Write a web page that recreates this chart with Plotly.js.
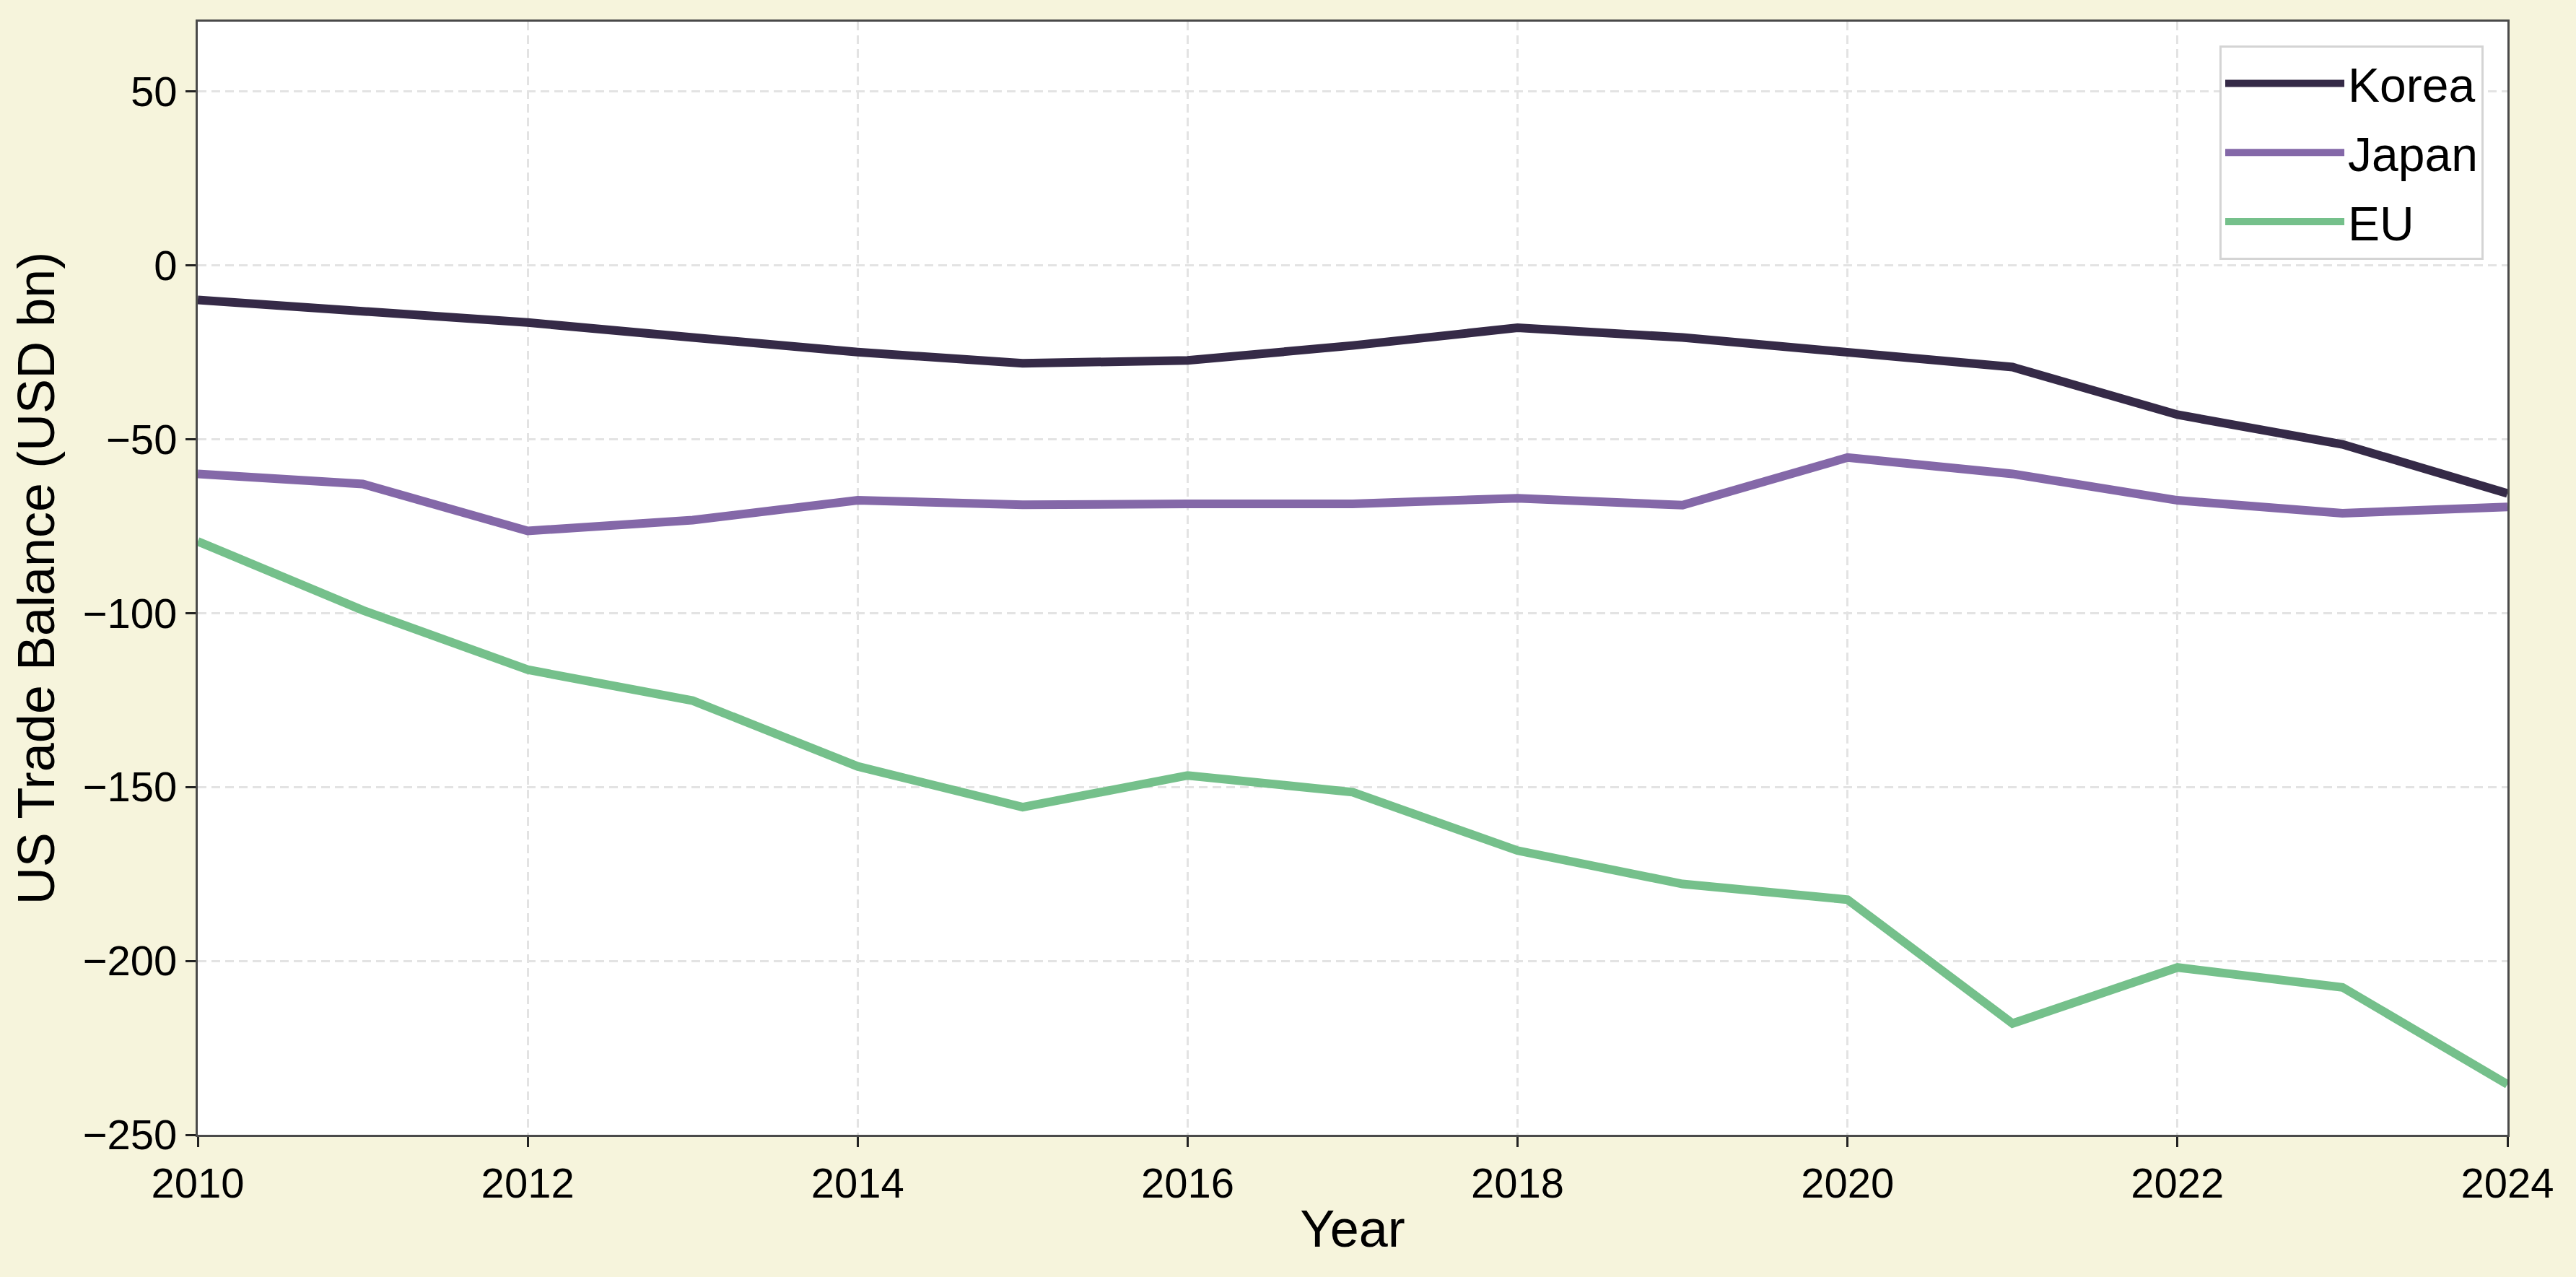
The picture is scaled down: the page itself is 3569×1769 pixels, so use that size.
<!DOCTYPE html>
<html>
<head>
<meta charset="utf-8">
<script src="https://cdn.plot.ly/plotly-3.0.1.min.js"></script>
<style>
html,body{margin:0;padding:0;background:#f6f4dc;}
#chart{width:3569px;height:1769px;}
</style>
</head>
<body>
<div id="chart"></div>
<script>
const years = [2010, 2011, 2012, 2013, 2014, 2015, 2016, 2017, 2018, 2019, 2020, 2021, 2022, 2023, 2024];
const korea = [-10, -13.2, -16.5, -20.8, -25, -28.2, -27.4, -23.1, -18, -20.8, -25, -29.3, -43, -51.5, -65.6];
const japan = [-60, -62.9, -76.4, -73.3, -67.6, -68.9, -68.6, -68.6, -67, -69, -55.3, -60, -67.6, -71.3, -69.5];
const eu = [-79.4, -99.2, -116.3, -125.2, -144.1, -155.8, -146.7, -151.5, -168.3, -177.9, -182.4, -218, -201.9, -207.6, -235.5];
const seriesNames = ['Korea', 'Japan', 'EU'];
const seriesColors = ['#352a47', '#8468a8', '#75c08b'];
const xTicks = [2010, 2012, 2014, 2016, 2018, 2020, 2022, 2024];
const yTicks = [-250, -200, -150, -100, -50, 0, 50];

const values = [korea, japan, eu];
const traces = values.map((v, i) => ({
  x: years,
  y: v,
  type: 'scatter',
  mode: 'lines',
  name: seriesNames[i],
  legendgroup: seriesNames[i],
  line: {color: seriesColors[i], width: 12}
}));

const FONT = 'Liberation Sans, Arial, Helvetica, sans-serif';
const axisCommon = {
  showline: true,
  linecolor: '#4a4a4a',
  linewidth: 3,
  mirror: true,
  ticks: 'outside',
  ticklen: 14,
  tickwidth: 3,
  tickcolor: '#222222',
  showgrid: true,
  gridcolor: '#e3e3e3',
  gridwidth: 3,
  griddash: '12px,7px',
  zeroline: false,
  tickfont: {family: FONT, size: 58, color: '#000000'}
};

const layout = {
  width: 3569,
  height: 1769,
  paper_bgcolor: '#f6f4dc',
  plot_bgcolor: '#ffffff',
  margin: {l: 274, r: 95, t: 30, b: 197, pad: 0},
  showlegend: true,
  legend: {
    x: 0.9897, xanchor: 'right',
    y: 0.9786, yanchor: 'top',
    bgcolor: '#ffffff',
    bordercolor: '#d4d4d4',
    borderwidth: 3,
    font: {family: FONT, size: 66, color: '#000000'},
    itemwidth: 165,
    traceorder: 'grouped',
    tracegroupgap: 7
  },
  xaxis: Object.assign({}, axisCommon, {
    range: [2010, 2024],
    tickmode: 'array',
    tickvals: xTicks,
    ticktext: xTicks.map(String),
    title: {text: 'Year', font: {family: FONT, size: 72, color: '#000000'}, standoff: 8}
  }),
  yaxis: Object.assign({}, axisCommon, {
    range: [-250, 70],
    tickmode: 'array',
    tickvals: yTicks,
    ticktext: yTicks.map(v => v < 0 ? '\u2212' + Math.abs(v) : String(v)),
    title: {text: 'US Trade Balance (USD bn)', font: {family: FONT, size: 72, color: '#000000'}, standoff: 16}
  })
};

Plotly.newPlot('chart', traces, layout, {displayModeBar: false, staticPlot: true});
</script>
</body>
</html>
